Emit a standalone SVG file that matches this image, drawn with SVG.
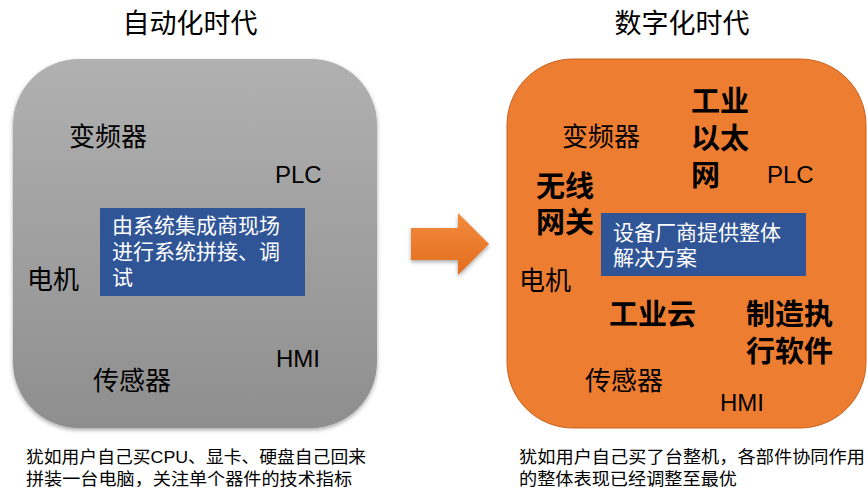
<svg xmlns="http://www.w3.org/2000/svg" width="867" height="492" viewBox="0 0 867 492">
<style>
text{font-family:"Liberation Sans","Noto Sans CJK SC",sans-serif;fill:#000}
.t{font-size:27px}
.lbl{font-size:26px}
.lat{font-size:24px}
.b{font-size:29px;font-weight:bold}
.w{font-size:21px;fill:#fff}
.note{font-size:17px}
</style>
<defs>
<linearGradient id="gray" x1="0" y1="0" x2="0" y2="1">
<stop offset="0" stop-color="#b1b1b1"/>
<stop offset="1" stop-color="#8e8e8e"/>
</linearGradient>
<linearGradient id="arr" x1="0" y1="0" x2="0" y2="1">
<stop offset="0" stop-color="#f38b3d"/>
<stop offset="1" stop-color="#e36d1f"/>
</linearGradient>
<filter id="sh" x="-10%" y="-10%" width="120%" height="120%">
<feGaussianBlur in="SourceAlpha" stdDeviation="2"/>
<feOffset dx="0" dy="2"/>
<feComponentTransfer><feFuncA type="linear" slope="0.35"/></feComponentTransfer>
<feMerge><feMergeNode/><feMergeNode in="SourceGraphic"/></feMerge>
</filter>
</defs>
<g id="titles">
<text class="t" x="190" y="33" text-anchor="middle">自动化时代</text>
<text class="t" x="682" y="33" text-anchor="middle">数字化时代</text>
</g>
<g id="left">
<rect x="13" y="59" width="364" height="369" rx="66" fill="url(#gray)" filter="url(#sh)"/>
<text class="lbl" x="69" y="146">变频器</text>
<text class="lat" x="275" y="183">PLC</text>
<rect x="100" y="208" width="205" height="88" fill="#2f5597"/>
<text class="w" x="112" y="233">由系统集成商现场</text>
<text class="w" x="112" y="259">进行系统拼接、调</text>
<text class="w" x="112" y="285">试</text>
<text class="lbl" x="27" y="289">电机</text>
<text class="lat" x="276" y="367">HMI</text>
<text class="lbl" x="93" y="390">传感器</text>
</g>
<g id="arrow">
<polygon points="411,228 458,228 458,213 489,244 458,275 458,260 411,260" fill="url(#arr)" filter="url(#sh)"/>
</g>
<g id="right">
<rect x="507" y="59" width="359" height="369" rx="66" fill="#ed7d31" stroke="#c9621f" stroke-width="1"/>
<text class="b" x="691" y="112">工业</text>
<text class="b" x="691" y="149">以太</text>
<text class="b" x="691" y="186">网</text>
<text class="lbl" x="562" y="146">变频器</text>
<text class="lat" x="767" y="183">PLC</text>
<text class="b" x="536" y="197">无线</text>
<text class="b" x="536" y="233">网关</text>
<rect x="601" y="213" width="205" height="63" fill="#2f5597"/>
<text class="w" x="613" y="240">设备厂商提供整体</text>
<text class="w" x="613" y="265">解决方案</text>
<text class="lbl" x="519" y="290">电机</text>
<text class="b" x="609" y="325">工业云</text>
<text class="b" x="746" y="325">制造执</text>
<text class="b" x="746" y="362">行软件</text>
<text class="lbl" x="585" y="390">传感器</text>
<text class="lat" x="720" y="411">HMI</text>
</g>
<g id="notes">
<text class="note" x="26" y="463" textLength="340" lengthAdjust="spacingAndGlyphs">犹如用户自己买CPU、显卡、硬盘自己回来</text>
<text class="note" x="26" y="485" textLength="326" lengthAdjust="spacingAndGlyphs">拼装一台电脑，关注单个器件的技术指标</text>
<text class="note" x="519" y="463" textLength="346" lengthAdjust="spacingAndGlyphs">犹如用户自己买了台整机，各部件协同作用</text>
<text class="note" x="519" y="485" textLength="218" lengthAdjust="spacingAndGlyphs">的整体表现已经调整至最优</text>
</g>
</svg>
